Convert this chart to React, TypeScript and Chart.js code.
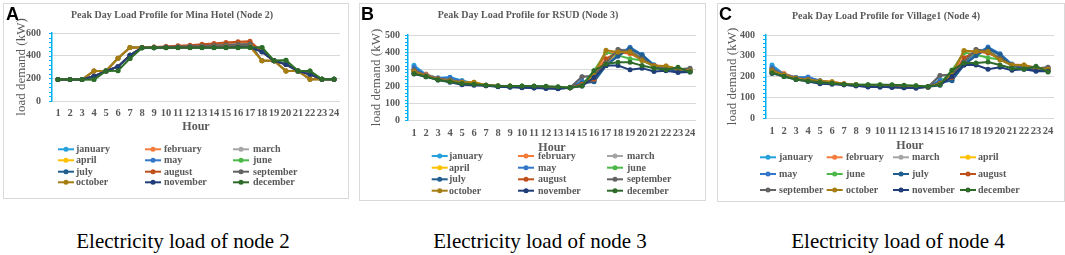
import React, { useEffect, useRef } from 'react';
import { Chart, registerables } from 'chart.js';

Chart.register(...registerables);

// ---------- data ----------
const hours = ['1', '2', '3', '4', '5', '6', '7', '8', '9', '10', '11', '12', '13', '14', '15', '16', '17', '18', '19', '20', '21', '22', '23', '24'];
const months = ['january', 'february', 'march', 'april', 'may', 'june', 'july', 'august', 'september', 'october', 'november', 'december'];
const monthColors = ['#27a1db', '#f47b3a', '#a5a5a5', '#ffc000', '#3277c8', '#4cb848', '#1f5e8e', '#c0501a', '#636363', '#a67d12', '#1f3d78', '#2e6b2a'];

// Node 2 - Mina Hotel
const n2Jan = [190, 190, 190, 218, 265, 303, 404, 470, 470, 471, 472, 473, 474, 475, 476, 477, 478, 435, 355, 323, 265, 235, 192, 192];
const n2Feb = [190, 190, 190, 218, 265, 303, 404, 472, 474, 478, 482, 486, 491, 496, 502, 508, 515, 435, 355, 323, 265, 235, 192, 192];
const n2Mar = [190, 190, 190, 265, 265, 378, 473, 472, 474, 477, 480, 484, 488, 492, 496, 500, 505, 355, 355, 265, 265, 192, 192, 192];
const n2Apr = [190, 190, 190, 265, 265, 378, 473, 472, 472, 473, 474, 475, 476, 477, 478, 479, 480, 355, 355, 265, 265, 192, 192, 192];
const n2May = [190, 190, 190, 218, 265, 303, 404, 470, 471, 473, 475, 477, 479, 481, 483, 485, 487, 435, 355, 323, 265, 235, 192, 192];
const n2Jun = [190, 190, 190, 190, 265, 268, 376, 470, 470, 470, 471, 471, 472, 472, 473, 473, 474, 472, 355, 360, 265, 265, 192, 192];
const n2Jul = [190, 190, 190, 218, 265, 303, 404, 470, 471, 472, 474, 476, 478, 480, 482, 484, 486, 435, 355, 323, 265, 235, 192, 192];
const n2Aug = [190, 190, 190, 218, 265, 303, 404, 473, 476, 481, 487, 493, 500, 508, 516, 523, 527, 435, 355, 323, 265, 235, 192, 192];
const n2Sep = [190, 190, 190, 265, 265, 378, 473, 472, 474, 476, 479, 482, 486, 490, 494, 498, 502, 355, 355, 265, 265, 192, 192, 192];
const n2Oct = [190, 190, 190, 265, 265, 378, 473, 472, 472, 473, 474, 475, 476, 477, 478, 479, 480, 355, 355, 265, 265, 192, 192, 192];
const n2Nov = [190, 190, 190, 218, 265, 303, 404, 470, 470, 471, 471, 472, 472, 473, 473, 474, 474, 435, 355, 323, 265, 235, 192, 192];
const n2Dec = [190, 190, 190, 190, 265, 268, 376, 470, 470, 470, 470, 470, 470, 470, 470, 470, 472, 472, 355, 360, 265, 265, 192, 192];

// Node 3 - RSUD
const n3Jan = [322, 268, 248, 252, 232, 215, 205, 200, 197, 196, 195, 192, 190, 190, 225, 240, 325, 395, 420, 385, 325, 305, 298, 292];
const n3Feb = [295, 270, 245, 235, 225, 222, 205, 200, 198, 197, 196, 194, 192, 190, 215, 245, 395, 398, 390, 355, 320, 318, 300, 290];
const n3Mar = [300, 262, 240, 240, 222, 212, 202, 198, 195, 193, 190, 188, 185, 190, 255, 255, 330, 415, 410, 365, 322, 310, 298, 300];
const n3Apr = [290, 262, 242, 238, 225, 220, 205, 200, 198, 196, 193, 190, 188, 190, 220, 250, 320, 400, 405, 360, 320, 315, 300, 292];
const n3May = [310, 265, 245, 250, 228, 215, 205, 200, 196, 194, 192, 190, 188, 190, 230, 230, 320, 385, 428, 385, 322, 305, 292, 288];
const n3Jun = [285, 258, 240, 228, 220, 212, 203, 200, 200, 200, 198, 196, 194, 192, 205, 290, 398, 380, 360, 352, 315, 305, 300, 295];
const n3Jul = [275, 258, 238, 230, 218, 210, 203, 198, 195, 193, 190, 188, 186, 190, 215, 225, 320, 375, 420, 380, 318, 300, 290, 285];
const n3Aug = [290, 262, 242, 232, 222, 215, 205, 200, 198, 196, 192, 190, 188, 190, 210, 240, 360, 400, 395, 355, 320, 312, 300, 295];
const n3Sep = [295, 260, 240, 235, 220, 210, 202, 198, 195, 193, 190, 188, 186, 190, 255, 260, 335, 415, 405, 360, 318, 310, 298, 305];
const n3Oct = [285, 260, 240, 230, 222, 222, 205, 200, 198, 196, 194, 192, 190, 190, 205, 270, 410, 400, 400, 350, 318, 318, 300, 290];
const n3Nov = [270, 255, 235, 222, 208, 205, 202, 196, 192, 190, 188, 186, 184, 190, 200, 250, 320, 320, 295, 305, 285, 290, 280, 282];
const n3Dec = [272, 255, 235, 225, 215, 210, 205, 200, 200, 200, 200, 198, 196, 190, 200, 290, 330, 340, 340, 320, 305, 295, 310, 282];

// Node 4 - Village1
const n4Jan = [255, 212, 195, 195, 180, 170, 163, 158, 155, 153, 152, 150, 148, 150, 185, 195, 270, 310, 330, 305, 260, 245, 238, 235];
const n4Feb = [240, 215, 195, 185, 178, 175, 165, 160, 156, 155, 153, 151, 150, 150, 170, 200, 320, 320, 315, 285, 258, 255, 240, 235];
const n4Mar = [235, 205, 190, 190, 175, 168, 162, 156, 152, 150, 148, 146, 145, 150, 205, 205, 265, 330, 325, 290, 258, 248, 238, 245];
const n4Apr = [232, 208, 192, 188, 178, 172, 163, 158, 155, 153, 151, 149, 148, 150, 175, 200, 260, 320, 322, 288, 255, 250, 240, 235];
const n4May = [245, 210, 195, 198, 180, 170, 163, 158, 154, 152, 150, 148, 146, 150, 180, 185, 260, 310, 342, 310, 258, 245, 235, 232];
const n4Jun = [225, 205, 190, 182, 175, 168, 162, 160, 160, 160, 158, 156, 155, 152, 165, 230, 315, 305, 290, 282, 252, 245, 240, 238];
const n4Jul = [220, 205, 188, 182, 172, 166, 160, 156, 154, 152, 150, 148, 147, 150, 170, 180, 255, 300, 335, 305, 252, 240, 232, 228];
const n4Aug = [230, 208, 192, 185, 176, 170, 163, 158, 155, 153, 151, 149, 148, 150, 168, 195, 290, 320, 315, 285, 256, 250, 240, 238];
const n4Sep = [235, 205, 190, 186, 174, 166, 160, 156, 152, 150, 148, 146, 145, 150, 205, 210, 270, 330, 322, 288, 254, 248, 238, 245];
const n4Oct = [228, 208, 190, 184, 178, 175, 165, 160, 156, 155, 153, 151, 150, 150, 165, 215, 325, 320, 320, 280, 255, 255, 242, 235];
const n4Nov = [215, 200, 185, 176, 165, 163, 160, 155, 150, 150, 148, 146, 145, 150, 158, 200, 255, 255, 235, 245, 230, 235, 225, 225];
const n4Dec = [218, 200, 186, 178, 172, 167, 163, 160, 160, 160, 160, 158, 156, 152, 160, 230, 265, 265, 270, 255, 240, 235, 250, 222];

const node2Series = [n2Jan, n2Feb, n2Mar, n2Apr, n2May, n2Jun, n2Jul, n2Aug, n2Sep, n2Oct, n2Nov, n2Dec];
const node3Series = [n3Jan, n3Feb, n3Mar, n3Apr, n3May, n3Jun, n3Jul, n3Aug, n3Sep, n3Oct, n3Nov, n3Dec];
const node4Series = [n4Jan, n4Feb, n4Mar, n4Apr, n4May, n4Jun, n4Jul, n4Aug, n4Sep, n4Oct, n4Nov, n4Dec];

// ---------- styling ----------
const SERIF = '"Liberation Serif", "Times New Roman", serif';
const GRAY = '#595959';

type PanelCfg = {
  letter: string;
  caption: string;
  captionX: number;
  box: { left: number; top: number; width: number; height: number };
  title: string;
  yMax: number;
  yStep: number;
  minorStep: number;
  series: number[][];
  yWidth: number;
  padRight: number;
  padBottom: number;
  titlePad: { top: number; bottom: number };
  yTitlePad: number;
  yTickPad: number;
  xTickPad: number;
  xHeight: number;
  legendCols: number;
  legendRows: number[];
  legendLineX: number[];
  legendTextX: number[];
};

const panels: PanelCfg[] = [
  {
    letter: 'A', caption: 'Electricity load of node 2', captionX: 183,
    box: { left: 3, top: 3, width: 346, height: 196 },
    title: 'Peak Day Load Profile for Mina Hotel (Node 2)',
    yMax: 600, yStep: 200, minorStep: 40, series: node2Series,
    yWidth: 48, padRight: 8, padBottom: 63.8,
    titlePad: { top: 5, bottom: 12 }, yTitlePad: 10, yTickPad: 11, xTickPad: 5.5, xHeight: 33.2,
    legendCols: 3, legendRows: [145.3, 156.3, 167.7, 178.3],
    legendLineX: [54, 141, 229], legendTextX: [72, 160, 249],
  },
  {
    letter: 'B', caption: 'Electricity load of node 3', captionX: 540,
    box: { left: 359, top: 3, width: 347, height: 198 },
    title: 'Peak Day Load Profile for RSUD (Node 3)',
    yMax: 500, yStep: 100, minorStep: 20, series: node3Series,
    yWidth: 48, padRight: 9, padBottom: 44.8,
    titlePad: { top: 5, bottom: 14 }, yTitlePad: 9, yTickPad: 8, xTickPad: 6.5, xHeight: 35.2,
    legendCols: 3, legendRows: [152, 163.7, 175.3, 186.7],
    legendLineX: [71.7, 158, 247], legendTextX: [89, 178, 267],
  },
  {
    letter: 'C', caption: 'Electricity load of node 4', captionX: 898,
    box: { left: 717, top: 3, width: 348, height: 199 },
    title: 'Peak Day Load Profile for Village1 (Node 4)',
    yMax: 400, yStep: 100, minorStep: 20, series: node4Series,
    yWidth: 48, padRight: 10, padBottom: 47.8,
    titlePad: { top: 6, bottom: 13 }, yTitlePad: 7, yTickPad: 11, xTickPad: 6.5, xHeight: 35.2,
    legendCols: 4, legendRows: [153.3, 170, 186],
    legendLineX: [42, 108.7, 175, 242], legendTextX: [61, 128, 194, 260],
  },
];

function extrasPlugin(cfg: PanelCfg) {
  return {
    id: 'extras' + cfg.letter,
    afterDraw(chart: any) {
      const ctx = chart.ctx as CanvasRenderingContext2D;
      const ys = chart.scales.y;
      const left = chart.chartArea.left;
      ctx.save();
      // minor tick marks on the y axis
      ctx.strokeStyle = '#00b0f0';
      ctx.lineWidth = 1;
      for (let v = 0; v <= cfg.yMax + 0.001; v += cfg.minorStep) {
        const py = Math.round(ys.getPixelForValue(v)) + 0.5;
        ctx.beginPath();
        ctx.moveTo(left - 3, py);
        ctx.lineTo(left, py);
        ctx.stroke();
      }
      // legend grid
      ctx.font = `bold 10px ${SERIF}`;
      ctx.textBaseline = 'middle';
      ctx.textAlign = 'left';
      months.forEach((m, i) => {
        const col = i % cfg.legendCols;
        const row = Math.floor(i / cfg.legendCols);
        const y = cfg.legendRows[row];
        const x0 = cfg.legendLineX[col];
        const color = monthColors[i];
        ctx.strokeStyle = color;
        ctx.lineWidth = 2;
        ctx.beginPath();
        ctx.moveTo(x0, y);
        ctx.lineTo(x0 + 16, y);
        ctx.stroke();
        ctx.fillStyle = color;
        ctx.beginPath();
        ctx.arc(x0 + 8, y, 2.5, 0, Math.PI * 2);
        ctx.fill();
        ctx.fillStyle = GRAY;
        ctx.fillText(m, cfg.legendTextX[col], y + 0.5);
      });
      ctx.restore();
    },
  };
}

function Panel({ cfg }: { cfg: PanelCfg }) {
  const ref = useRef<HTMLCanvasElement>(null);
  const cw = cfg.box.width - 2;
  const ch = cfg.box.height - 2;

  useEffect(() => {
    if (!ref.current) return;
    const chart = new Chart(ref.current, {
      type: 'line',
      data: {
        labels: hours,
        datasets: cfg.series.map((d, i) => ({
          label: months[i],
          data: d,
          borderColor: monthColors[i],
          backgroundColor: monthColors[i],
          pointBackgroundColor: monthColors[i],
          pointBorderColor: monthColors[i],
          pointBorderWidth: 0,
          pointRadius: 2.5,
          borderWidth: 2,
          tension: 0,
          fill: false,
          order: 11 - i,
        })),
      },
      options: {
        responsive: false,
        animation: false,
        devicePixelRatio: 1,
        layout: { padding: { left: 0, right: cfg.padRight, top: 0, bottom: cfg.padBottom } },
        plugins: {
          legend: { display: false },
          tooltip: { enabled: false },
          title: {
            display: true,
            text: cfg.title,
            color: GRAY,
            font: { family: SERIF, size: 10, weight: 'bold' },
            padding: cfg.titlePad,
          },
        },
        scales: {
          x: {
            offset: true,
            grid: { display: false, drawTicks: false },
            border: { display: false },
            ticks: {
              autoSkip: false, maxRotation: 0, minRotation: 0,
              padding: cfg.xTickPad, color: GRAY,
              font: { family: SERIF, size: 10.5, weight: 'bold' },
            },
            title: {
              display: true, text: 'Hour', color: GRAY, padding: 0,
              font: { family: SERIF, size: 12, weight: 'bold' },
            },
            afterFit: (s: any) => { s.height = cfg.xHeight; },
          },
          y: {
            min: 0,
            max: cfg.yMax,
            ticks: {
              stepSize: cfg.yStep, padding: cfg.yTickPad, color: GRAY,
              font: { family: SERIF, size: 10, weight: 'bold' },
            },
            grid: { color: '#d9d9d9', drawTicks: false, lineWidth: 1 },
            border: { display: true, color: '#00b0f0', width: 1.5 },
            title: {
              display: true, text: 'load demand (kW)', color: GRAY,
              padding: { top: cfg.yTitlePad, bottom: 0 },
              font: { family: SERIF, size: 13 },
            },
            afterFit: (s: any) => { s.width = cfg.yWidth; },
          },
        },
      } as any,
      plugins: [extrasPlugin(cfg)],
    });
    return () => chart.destroy();
  }, []);

  return (
    <>
      <div
        style={{
          position: 'absolute', left: cfg.box.left, top: cfg.box.top,
          width: cfg.box.width, height: cfg.box.height,
          border: '1px solid #d9d9d9', boxSizing: 'border-box', background: '#fff',
        }}
      >
        <canvas ref={ref} width={cw} height={ch} style={{ position: 'absolute', left: 0, top: 0, width: cw, height: ch }} />
      </div>
      <div
        style={{
          position: 'absolute', left: cfg.box.left + (cfg.letter === 'A' ? 3 : 2), top: 5,
          font: 'bold 18px "Liberation Sans", Arial, sans-serif', lineHeight: '18px', color: '#000',
        }}
      >
        {cfg.letter}
      </div>
      <div
        style={{
          position: 'absolute', left: cfg.captionX - 170, top: 231, width: 340, textAlign: 'center',
          font: `21px ${SERIF}`, lineHeight: '21px', color: '#000', whiteSpace: 'nowrap',
        }}
      >
        {cfg.caption}
      </div>
    </>
  );
}

export default function App() {
  return (
    <div style={{ position: 'absolute', left: 0, top: 0, width: 1065, height: 255, background: '#fff', overflow: 'hidden' }}>
      {panels.map((p) => (
        <Panel key={p.letter} cfg={p} />
      ))}
    </div>
  );
}
